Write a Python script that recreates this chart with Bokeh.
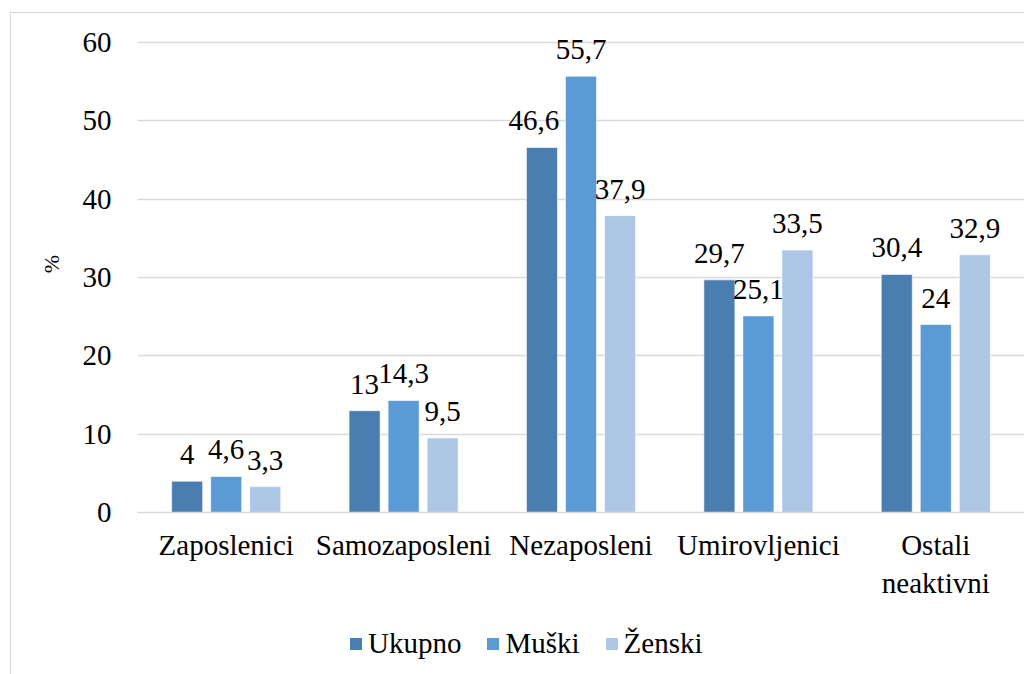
from bokeh.plotting import figure
from bokeh.layouts import column
from bokeh.models import ColumnDataSource, FactorRange, Range1d, FixedTicker, Legend, LegendItem, LabelSet
from bokeh.transform import dodge
from bokeh.embed import file_html
from bokeh.resources import INLINE

categories = ["Zaposlenici", "Samozaposleni", "Nezaposleni", "Umirovljenici", "Ostali\nneaktivni"]
ukupno = [4, 13, 46.6, 29.7, 30.4]
muski = [4.6, 14.3, 55.7, 25.1, 24]
zenski = [3.3, 9.5, 37.9, 33.5, 32.9]
series_names = ["Ukupno", "Muški", "Ženski"]
colors = ["#4a7eb0", "#5b9bd5", "#adc6e5"]
y_ticks = [0, 10, 20, 30, 40, 50, 60]

FONT = "Liberation Serif"

def fmt(v):
    s = ("%g" % v)
    return s.replace(".", ",")

src = ColumnDataSource(dict(
    cat=categories,
    ukupno=ukupno, muski=muski, zenski=zenski,
    l_ukupno=[fmt(v) for v in ukupno],
    l_muski=[fmt(v) for v in muski],
    l_zenski=[fmt(v) for v in zenski],
))
# small horizontal nudge of one data label (as in the original, to clear the taller neighbour)
src.data["dx_ukupno"] = [0, 0, -8, 0, 0]
src.data["dx_muski"] = [0, 0, 0, 0, 0]
src.data["dx_zenski"] = [0, 0, 0, 0, 0]

p = figure(width=1013, height=605, x_range=FactorRange(*categories), y_range=Range1d(0, 63.45),
           output_backend="svg", toolbar_location=None,
           min_border_left=126, min_border_right=0, min_border_top=2, min_border_bottom=106)
p.x_range.range_padding = 0
p.outline_line_color = None
p.xgrid.grid_line_color = None
p.ygrid.grid_line_color = "#d9d9d9"
p.ygrid.grid_line_width = 1.3
p.ygrid.ticker = FixedTicker(ticks=y_ticks)

p.yaxis.ticker = FixedTicker(ticks=y_ticks)
p.yaxis.axis_line_color = None
p.yaxis.major_tick_line_color = None
p.yaxis.minor_tick_line_color = None
p.yaxis.major_label_text_font = FONT
p.yaxis.major_label_text_font_size = "29px"
p.yaxis.major_label_text_color = "#000000"
p.yaxis.major_label_standoff = 20
p.yaxis.axis_label = "%"
p.yaxis.axis_label_text_font = FONT
p.yaxis.axis_label_text_font_size = "22px"
p.yaxis.axis_label_text_font_style = "normal"
p.yaxis.axis_label_text_color = "#000000"
p.yaxis.axis_label_standoff = 16

p.xaxis.axis_line_color = "#d9d9d9"
p.xaxis.axis_line_width = 1.5
p.xaxis.major_tick_line_color = None
p.xaxis.minor_tick_line_color = None
p.xaxis.major_label_text_font = FONT
p.xaxis.major_label_text_font_size = "29px"
p.xaxis.major_label_text_color = "#000000"
p.xaxis.major_label_standoff = 10

offsets = [-0.22, 0.0, 0.22]
fields = ["ukupno", "muski", "zenski"]
for name, field, off, col in zip(series_names, fields, offsets, colors):
    p.vbar(x=dodge("cat", off, range=p.x_range), top=field, width=0.175, source=src,
           fill_color=col, line_color="white", line_alpha=0.6, line_width=1)
    lbl = LabelSet(x=dodge("cat", off, range=p.x_range), y=field, text="l_" + field, source=src,
                   x_offset="dx_" + field,
                   text_align="center", text_baseline="alphabetic", y_offset=17,
                   text_font=FONT, text_font_size="29px", text_color="#000000")
    p.add_layout(lbl)

# legend strip
pl = figure(width=1013, height=56, x_range=Range1d(0, 1), y_range=Range1d(0, 1),
            output_backend="svg", toolbar_location=None,
            x_axis_location=None, y_axis_location=None,
            min_border_left=0, min_border_right=0, min_border_top=0, min_border_bottom=0)
pl.grid.visible = False
pl.outline_line_color = None
items = []
for name, col in zip(series_names, colors):
    # zero-height placeholder bar, only used for the legend swatch
    r = pl.vbar(x=[0.5], top=[0], width=0.01, fill_color=col, line_color=None)
    items.append(LegendItem(label=name, renderers=[r]))
legend = Legend(items=items, orientation="horizontal", location=(211, 14),
                label_text_font=FONT, label_text_font_size="29px", label_text_color="#000000",
                glyph_width=15, glyph_height=15, label_standoff=5, spacing=24, label_height=30,
                border_line_color=None, background_fill_alpha=0, padding=0, margin=0)
pl.add_layout(legend)

layout = column(p, pl, spacing=0,
                styles={"margin-left": "10px", "margin-top": "12px",
                        "border-left": "1px solid #d9d9d9", "border-top": "1px solid #d9d9d9"})

open("out.html", "w").write(file_html(layout, INLINE))
